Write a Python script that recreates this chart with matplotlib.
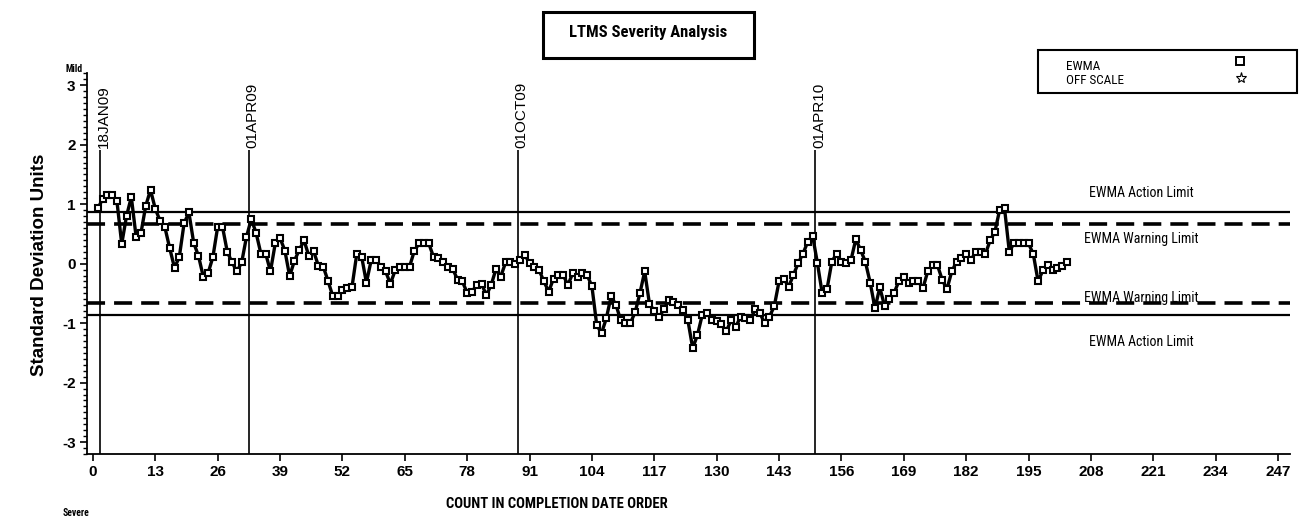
import matplotlib
matplotlib.use("Agg")
import matplotlib.pyplot as plt
from matplotlib import font_manager
from matplotlib.patches import Rectangle
from matplotlib.lines import Line2D
import matplotlib.ticker as mticker

# EWMA severity values in completion-date order (count 1..N)
ewma = [
    0.93, 1.08, 1.15, 1.15, 1.05, 0.33, 0.80, 1.12, 0.45, 0.51,
    0.97, 1.24, 0.92, 0.72, 0.61, 0.26, -0.07, 0.11, 0.68, 0.86,
    0.35, 0.13, -0.22, -0.16, 0.11, 0.62, 0.62, 0.20, 0.02, -0.13,
    0.02, 0.45, 0.75,
    0.52, 0.17, 0.17, -0.13, 0.34, 0.43, 0.22, -0.21, 0.05, 0.23,
    0.39, 0.13, 0.21, -0.04, -0.05, -0.29, -0.55, -0.55, -0.44, -0.41,
    -0.39, 0.17, 0.12, -0.32, 0.06, 0.06, -0.05, -0.13, -0.34, -0.11,
    -0.05, -0.05, -0.05, 0.22, 0.34, 0.34, 0.34,
    0.11, 0.09, 0.02, -0.05, -0.09, -0.27, -0.30, -0.49, -0.47, -0.36,
    -0.34, -0.53, -0.36, -0.09, -0.22, 0.02, 0.02, -0.01, 0.06, 0.15,
    0.01, -0.05, -0.11, -0.30, -0.47, -0.25, -0.19, -0.19, -0.36, -0.16,
    -0.22, -0.16, -0.19, -0.38,
    -1.03, -1.17, -0.92, -0.55, -0.69, -0.95, -1.00, -1.00, -0.82, -0.50,
    -0.13, -0.68, -0.79, -0.90, -0.77, -0.61, -0.64, -0.69, -0.78, -0.95,
    -1.42, -1.20, -0.86, -0.83, -0.95, -0.97, -1.02, -1.14, -0.95, -1.06,
    -0.89, -0.92, -0.95, -0.77, -0.83, -1.00, -0.89,
    -0.72, -0.30, -0.25, -0.39, -0.19, 0.01, 0.17, 0.37, 0.47, 0.01,
    -0.50, -0.43, 0.03, 0.17, 0.03, 0.01, 0.06, 0.41, 0.23, 0.03,
    -0.32, -0.75, -0.40, -0.71, -0.60, -0.49, -0.29, -0.22, -0.33, -0.30,
    -0.30, -0.41, -0.13, -0.02, -0.02,
    -0.27, -0.43, -0.13, 0.03, 0.09, 0.17, 0.06, 0.20, 0.20, 0.16,
    0.39, 0.54, 0.91, 0.93, 0.20, 0.35, 0.34, 0.34, 0.34, 0.16,
    -0.30, -0.11, -0.02, -0.11, -0.08, -0.04, 0.03,
]
count = list(range(1, len(ewma) + 1))

action_limit = 0.86
warning_limit = 0.66

date_marks = [1.5, 32.5, 88.5, 150.5]
date_labels = ["18JAN09", "01APR09", "01OCT09", "01APR10"]

x_ticks = list(range(0, 248, 13))
y_ticks = [-3, -2, -1, 0, 1, 2, 3]


def pick(*names):
    available = {f.name for f in font_manager.fontManager.ttflist}
    for n in names:
        if n in available:
            return n
    return "DejaVu Sans"


narrow = pick("Liberation Sans Narrow", "Roboto Condensed", "Liberation Sans")
sans = pick("Liberation Sans", "Arial", "DejaVu Sans")
plt.rcParams["axes.unicode_minus"] = False

W, H = 1307, 518
fig = plt.figure(figsize=(W / 100, H / 100), dpi=100)


def fx(px):
    return px / W


def fy(py):
    return 1 - py / H


ax = fig.add_axes([fx(86.7), fy(454), fx(1290 - 86.7), fy(73.3) - fy(454)])
ax.set_xlim(-1.3, 249.5)
ax.set_ylim(-3.2, 3.2)

for s in ("top", "right"):
    ax.spines[s].set_visible(False)
for s in ("left", "bottom"):
    ax.spines[s].set_linewidth(1.3)

# control limits
ax.axhline(action_limit, color="black", lw=1.6, zorder=1)
ax.axhline(-action_limit, color="black", lw=1.6, zorder=1)
ax.axhline(warning_limit, color="black", lw=2.6, ls=(0, (5, 2.5)), zorder=1)
ax.axhline(-warning_limit, color="black", lw=2.6, ls=(0, (5, 2.5)), zorder=1)

# date reference lines
ax.vlines(date_marks, -3.2, 1.91, color="black", lw=1.2, zorder=1)
for m, lbl in zip(date_marks, date_labels):
    ax.annotate(lbl, xy=(m, 1.95), xytext=(4, 0), textcoords="offset pixels",
                rotation=90, ha="center", va="bottom", fontsize=11,
                family=sans)

# EWMA series
ax.plot(count, ewma, color="black", lw=2.4, marker="s", ms=4.8,
        mfc="white", mec="black", mew=1.5, zorder=3)

label_x = 218.6
ax.text(label_x, 1.19, "EWMA Action Limit", ha="center", va="center",
        fontsize=10, family=narrow)
ax.text(label_x, 0.42, "EWMA Warning Limit", ha="center", va="center",
        fontsize=10, family=narrow)
ax.text(label_x, -0.57, "EWMA Warning Limit", ha="center", va="center",
        fontsize=10, family=narrow)
ax.text(label_x, -1.31, "EWMA Action Limit", ha="center", va="center",
        fontsize=10, family=narrow)

ax.set_xticks(x_ticks)
ax.set_yticks(y_ticks)
ax.yaxis.set_minor_locator(mticker.MultipleLocator(0.1))
ax.tick_params(axis="both", which="major", direction="out", length=5,
               width=1.2, labelsize=11, pad=3)
ax.tick_params(axis="y", which="minor", direction="out", length=3, width=1.0)
for t in ax.get_xticklabels() + ax.get_yticklabels():
    t.set_fontweight("bold")
    t.set_family(sans)

# title box
fig.add_artist(Rectangle((fx(542.7), fy(57.7)), fx(754 - 542.7), fy(12) - fy(57.7),
                         transform=fig.transFigure, fill=False, lw=2.2,
                         edgecolor="black"))
fig.text(fx(648), fy(33), "LTMS Severity Analysis", ha="center", va="center",
         fontsize=12, fontweight="bold", family=narrow)

# legend box
fig.add_artist(Rectangle((fx(1038), fy(92.7)), fx(1297 - 1038), fy(50) - fy(92.7),
                         transform=fig.transFigure, fill=False, lw=1.5,
                         edgecolor="black"))
fig.text(fx(1066), fy(66), "EWMA", ha="left", va="center", fontsize=9.5,
         family=narrow)
fig.text(fx(1066), fy(80), "OFF SCALE", ha="left", va="center", fontsize=9.5,
         family=narrow)
fig.add_artist(Line2D([fx(1240)], [fy(61)], marker="s", ms=5.5, mfc="white",
                      mec="black", mew=1.4, transform=fig.transFigure))
fig.add_artist(Line2D([fx(1241)], [fy(78)], marker="*", ms=8, mfc="white",
                      mec="black", mew=0.8, transform=fig.transFigure))

# axis titles
fig.text(fx(40), fy(265), "Standard Deviation Units", rotation=90,
         ha="center", va="center", fontsize=13.5, fontweight="bold",
         family=sans)
fig.text(fx(557), fy(504), "COUNT IN COMPLETION DATE ORDER", ha="center",
         va="center", fontsize=10.5, fontweight="bold", family=narrow)
fig.text(fx(74.5), fy(69), "Mild", ha="center", va="center", fontsize=7,
         fontweight="bold", family=narrow)
fig.text(fx(76), fy(508), "Severe", ha="center", va="top", fontsize=7,
         fontweight="bold", family=narrow)

fig.savefig("out.png", dpi=100)
